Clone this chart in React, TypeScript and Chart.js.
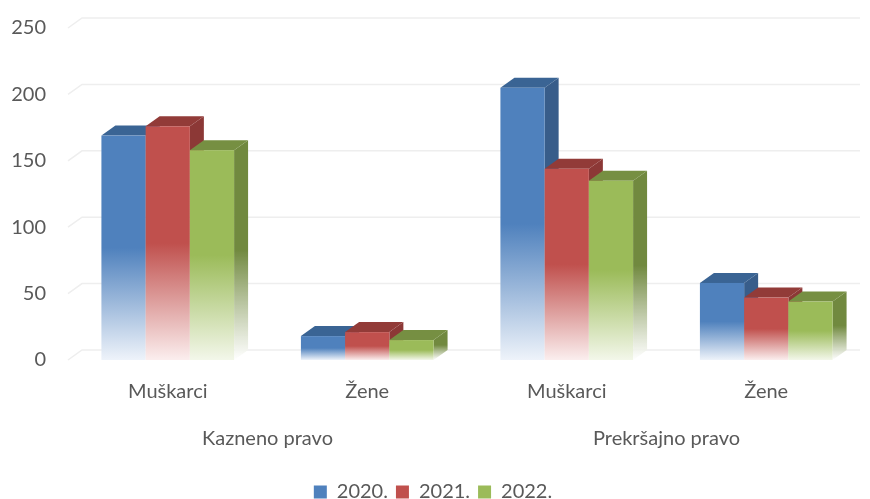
import React, { useEffect, useRef } from 'react';
import { Chart, registerables } from 'chart.js';

Chart.register(...registerables);

const categories = ['Muškarci', 'Žene', 'Muškarci', 'Žene'];
const groups = ['Kazneno pravo', 'Prekršajno pravo'];
const years = ['2020.', '2021.', '2022.'];
const values2020 = [169, 18, 205, 58];
const values2021 = [176, 21, 144, 47];
const values2022 = [158, 15, 135, 44];
const yTicks = [0, 50, 100, 150, 200, 250];

const palette = [
  { front: '#4F81BD', side: '#385D8A', top: '#3A6494', light: '#EEF3FA' },
  { front: '#C0504D', side: '#8C3836', top: '#923B38', light: '#FBEEEE' },
  { front: '#9BBB59', side: '#71893F', top: '#768F42', light: '#F3F7EA' },
];

const DX = 14;
const DY = 10;
const FONT = 'Lato, "Open Sans", sans-serif';
const TEXT = '#595959';

const bars3d = {
  id: 'bars3d',
  beforeDatasetsDraw(chart: any) {
    const { ctx, chartArea, scales } = chart;
    const ys = scales.y;
    ctx.save();
    ctx.strokeStyle = '#EEEEEE';
    ctx.lineWidth = 1.5;
    yTicks.forEach((v) => {
      const py = ys.getPixelForValue(v);
      ctx.beginPath();
      ctx.moveTo(chartArea.left, py);
      ctx.lineTo(chartArea.left + DX, py - DY);
      ctx.lineTo(chartArea.right - 6, py - DY);
      ctx.stroke();
    });
    const n = chart.data.labels.length;
    for (let i = 0; i < n; i++) {
      chart.data.datasets.forEach((ds: any, d: number) => {
        const meta = chart.getDatasetMeta(d);
        if (meta.hidden) return;
        const el = meta.data[i];
        const p = el.getProps(['x', 'y', 'width', 'base'], true);
        const c = palette[d];
        const l = p.x - p.width / 2;
        const r = p.x + p.width / 2;
        const top = p.y;
        const base = p.base;
        const sg = ctx.createLinearGradient(0, top - DY, 0, base);
        sg.addColorStop(0, c.side);
        sg.addColorStop(0.5, c.side);
        sg.addColorStop(1, 'rgba(255,255,255,0.9)');
        ctx.fillStyle = sg;
        ctx.beginPath();
        ctx.moveTo(r, top);
        ctx.lineTo(r + DX, top - DY);
        ctx.lineTo(r + DX, base - DY);
        ctx.lineTo(r, base);
        ctx.closePath();
        ctx.fill();
        ctx.fillStyle = c.top;
        ctx.beginPath();
        ctx.moveTo(l, top);
        ctx.lineTo(l + DX, top - DY);
        ctx.lineTo(r + DX, top - DY);
        ctx.lineTo(r, top);
        ctx.closePath();
        ctx.fill();
        const fg = ctx.createLinearGradient(0, top, 0, base);
        fg.addColorStop(0, c.front);
        fg.addColorStop(0.5, c.front);
        fg.addColorStop(1, c.light);
        ctx.fillStyle = fg;
        ctx.fillRect(l, top, r - l, base - top);
      });
    }
    ctx.restore();
    return false;
  },
};

export default function App() {
  const ref = useRef<HTMLCanvasElement | null>(null);
  useEffect(() => {
    if (!ref.current) return;
    const datasetsValues = [values2020, values2021, values2022];
    const chart = new Chart(ref.current, {
      type: 'bar',
      data: {
        labels: categories,
        datasets: years.map((y, i) => ({
          label: y,
          data: datasetsValues[i],
          backgroundColor: palette[i].front,
          borderWidth: 0,
          barPercentage: 1,
          categoryPercentage: 0.665,
        })),
      },
      options: {
        animation: false,
        responsive: true,
        maintainAspectRatio: false,
        layout: { padding: { top: 28, right: 4, left: 0, bottom: -13 } },
        scales: {
          y: {
            min: 0,
            max: 250,
            ticks: { stepSize: 50, color: TEXT, font: { family: FONT, size: 20 }, padding: 22 },
            grid: { display: false, drawTicks: false },
            border: { display: false },
            afterFit: (s: any) => { s.width = 68; s.paddingTop = 0; s.paddingBottom = 0; },
          },
          x: {
            ticks: { color: TEXT, font: { family: FONT, size: 20 }, padding: 20 },
            grid: { display: false, drawTicks: false },
            border: { display: false },
            afterFit: (s: any) => { s.height = 44; },
          },
          x2: {
            type: 'category',
            position: 'bottom',
            labels: groups,
            offset: true,
            ticks: { color: TEXT, font: { family: FONT, size: 20 }, padding: 23 },
            grid: { display: false, drawTicks: false },
            border: { display: false },
            afterFit: (s: any) => { s.height = 70; },
          },
        },
        plugins: {
          legend: {
            position: 'bottom',
            labels: {
              color: TEXT,
              font: { family: FONT, size: 20 },
              boxWidth: 13,
              boxHeight: 13,
              padding: 8,
            },
          },
          tooltip: { enabled: false },
        },
      },
      plugins: [bars3d],
    });
    return () => chart.destroy();
  }, []);
  return (
    <div style={{ position: 'fixed', left: 0, top: 0, width: 870, height: 499, background: '#fff' }}>
      <canvas ref={ref} />
    </div>
  );
}
